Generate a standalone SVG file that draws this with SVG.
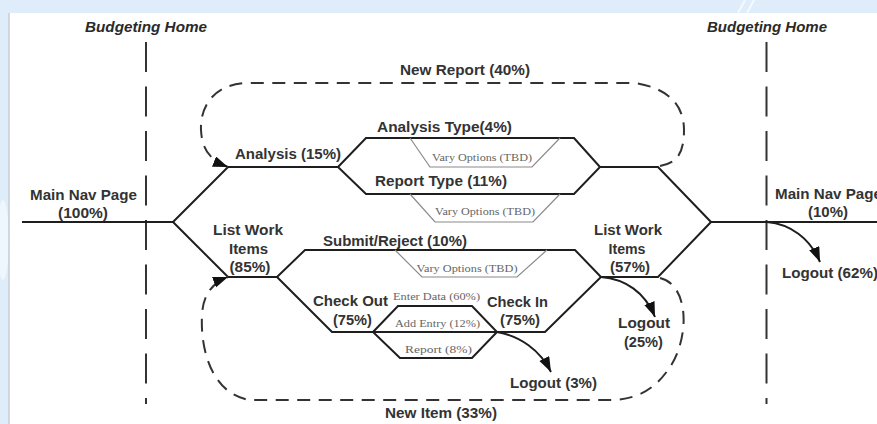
<svg xmlns="http://www.w3.org/2000/svg" width="877" height="424" viewBox="0 0 877 424">
  <style>
    .lbl { font-family: "Liberation Sans", Arial, sans-serif; font-weight: bold; font-size: 14px; fill: #333; text-anchor: middle; }
    .hdr { font-family: "Liberation Sans", Arial, sans-serif; font-weight: bold; font-style: italic; font-size: 14px; fill: #2a2a2a; text-anchor: middle; }
    .opt { font-family: "Liberation Serif", "Times New Roman", serif; font-size: 10px; fill: #666; text-anchor: middle; }
    .path { fill: none; stroke: #1e1e1e; stroke-width: 2; stroke-linejoin: miter; }
    .sub { fill: none; stroke: #8a8a8a; stroke-width: 1.2; }
    .loop { fill: none; stroke: #333; stroke-width: 2; stroke-dasharray: 13 8.5; }
    .home { fill: none; stroke: #333; stroke-width: 2; stroke-dasharray: 30 14.5; }
    .exit { fill: none; stroke: #1e1e1e; stroke-width: 2; }
  </style>
  <defs>
    <marker id="head" markerUnits="userSpaceOnUse" markerWidth="16" markerHeight="12" refX="15" refY="5.5" orient="auto">
      <path d="M0,0 L15,5.5 L0,11 z" fill="#111"/>
    </marker>
  </defs>

  <!-- page background and white sheet -->
  <rect x="0" y="0" width="877" height="424" fill="#dfedfb"/>
  <line x1="745" y1="0" x2="738" y2="13" stroke="#f4f9ff" stroke-width="2"/>
  <line x1="754" y1="0" x2="747" y2="13" stroke="#f4f9ff" stroke-width="2"/>
  <ellipse cx="3" cy="240" rx="6" ry="40" fill="#eef6fe"/>
  <rect x="9" y="13" width="868" height="411" fill="#ffffff"/>
  <line x1="9" y1="13" x2="9" y2="424" stroke="#c9cdd2" stroke-width="1.5"/>

  <!-- Budgeting Home boundaries -->
  <g id="home-left">
    <text class="hdr" x="146" y="32" textLength="122" lengthAdjust="spacingAndGlyphs">Budgeting Home</text>
    <line class="home" x1="146" y1="42" x2="146" y2="404"/>
  </g>
  <g id="home-right">
    <text class="hdr" x="767" y="32" textLength="120" lengthAdjust="spacingAndGlyphs">Budgeting Home</text>
    <line class="home" x1="766.5" y1="42" x2="766.5" y2="404"/>
  </g>

  <!-- connectors -->
  <g id="connectors">
    <!-- main flow -->
    <path class="path" d="M22 222 L173 222"/>
    <path class="path" d="M173 222 L228 167 L338 167"/>
    <path class="path" d="M173 222 L228 277 L277 277"/>
    <path class="path" d="M338 167 L366 138 L574 138 L600 167 L574 194 L366 194 Z"/>
    <path class="path" d="M600 167 L658 167 L711 222"/>
    <path class="path" d="M711 222 L877 222"/>
    <path class="path" d="M277 277 L305 250 L575 250 L601 277 L545 332 L497 332"/>
    <path class="path" d="M277 277 L332 332 L373 332 L497 332"/>
    <path class="path" d="M373 332 L398 306 L472 306 L497 332 L472 358 L400 358 Z"/>
    <path class="path" d="M601 277 L658 277 L711 222"/>

    <!-- option sub-paths -->
    <path class="sub" d="M410 138 L430 167 L532 167 L560 138"/>
    <path class="sub" d="M410 194 L435 222 L533 222 L560 194"/>
    <path class="sub" d="M395 250 L422 277 L517 277 L547 250"/>

    <!-- loops -->
    <path class="loop" marker-end="url(#head)" d="M660 166 C678 163 684 152 684 130 C684 105 668 88 635 83 L245 83 C215 85 200 105 201 130 C202 150 210 160 228 167"/>
    <path class="loop" marker-end="url(#head)" d="M660 278 C690 285 690 340 668 370 C655 388 640 398 615 400 L250 400 C215 395 200 355 202 315 C203 295 212 283 228 277"/>

    <!-- exits -->
    <path class="exit" marker-end="url(#head)" d="M767 222 C790 224 810 238 820 262"/>
    <path class="exit" marker-end="url(#head)" d="M601 277 C625 279 645 292 655 317"/>
    <path class="exit" marker-end="url(#head)" d="M497 332 C520 336 540 350 551 372"/>
  </g>

  <!-- nodes -->
  <g id="main-nav-start">
    <text class="lbl" x="83.5" y="200" textLength="107" lengthAdjust="spacingAndGlyphs">Main Nav Page</text>
    <text class="lbl" x="83" y="218" textLength="50" lengthAdjust="spacingAndGlyphs">(100%)</text>
  </g>
  <g id="main-nav-end">
    <text class="lbl" x="828.5" y="199" textLength="107" lengthAdjust="spacingAndGlyphs">Main Nav Page</text>
    <text class="lbl" x="828" y="217" textLength="40" lengthAdjust="spacingAndGlyphs">(10%)</text>
  </g>
  <g id="new-report">
    <text class="lbl" x="465" y="75" textLength="130" lengthAdjust="spacingAndGlyphs">New Report (40%)</text>
  </g>
  <g id="analysis">
    <text class="lbl" x="288" y="159" textLength="106" lengthAdjust="spacingAndGlyphs">Analysis (15%)</text>
  </g>
  <g id="analysis-type">
    <text class="lbl" x="444.5" y="132" textLength="135" lengthAdjust="spacingAndGlyphs">Analysis Type(4%)</text>
    <text class="opt" x="482" y="161" textLength="100" lengthAdjust="spacingAndGlyphs">Vary Options (TBD)</text>
  </g>
  <g id="report-type">
    <text class="lbl" x="441" y="186" textLength="132" lengthAdjust="spacingAndGlyphs">Report Type (11%)</text>
    <text class="opt" x="485" y="215" textLength="100" lengthAdjust="spacingAndGlyphs">Vary Options (TBD)</text>
  </g>
  <g id="list-work-items-in">
    <text class="lbl" x="248" y="235" textLength="70" lengthAdjust="spacingAndGlyphs">List Work</text>
    <text class="lbl" x="248.5" y="254" textLength="39" lengthAdjust="spacingAndGlyphs">Items</text>
    <text class="lbl" x="250" y="272" textLength="41" lengthAdjust="spacingAndGlyphs">(85%)</text>
  </g>
  <g id="list-work-items-out">
    <text class="lbl" x="628" y="235" textLength="68" lengthAdjust="spacingAndGlyphs">List Work</text>
    <text class="lbl" x="627" y="254" textLength="37" lengthAdjust="spacingAndGlyphs">Items</text>
    <text class="lbl" x="630" y="272" textLength="40" lengthAdjust="spacingAndGlyphs">(57%)</text>
  </g>
  <g id="submit-reject">
    <text class="lbl" x="395" y="246" textLength="144" lengthAdjust="spacingAndGlyphs">Submit/Reject (10%)</text>
    <text class="opt" x="467" y="272" textLength="101" lengthAdjust="spacingAndGlyphs">Vary Options (TBD)</text>
  </g>
  <g id="check-out">
    <text class="lbl" x="350.5" y="306" textLength="75" lengthAdjust="spacingAndGlyphs">Check Out</text>
    <text class="lbl" x="352.5" y="325" textLength="39" lengthAdjust="spacingAndGlyphs">(75%)</text>
  </g>
  <g id="enter-data">
    <text class="opt" x="436.5" y="300" textLength="87" lengthAdjust="spacingAndGlyphs">Enter Data (60%)</text>
    <text class="opt" x="437.5" y="327" textLength="85" lengthAdjust="spacingAndGlyphs">Add Entry (12%)</text>
    <text class="opt" x="438.5" y="353" textLength="67" lengthAdjust="spacingAndGlyphs">Report  (8%)</text>
  </g>
  <g id="check-in">
    <text class="lbl" x="517.5" y="307" textLength="61" lengthAdjust="spacingAndGlyphs">Check In</text>
    <text class="lbl" x="520" y="325" textLength="40" lengthAdjust="spacingAndGlyphs">(75%)</text>
  </g>
  <g id="logout-25">
    <text class="lbl" x="644" y="328" textLength="52" lengthAdjust="spacingAndGlyphs">Logout</text>
    <text class="lbl" x="643.5" y="347" textLength="39" lengthAdjust="spacingAndGlyphs">(25%)</text>
  </g>
  <g id="logout-3">
    <text class="lbl" x="553.5" y="388" textLength="87" lengthAdjust="spacingAndGlyphs">Logout (3%)</text>
  </g>
  <g id="logout-62">
    <text class="lbl" x="830" y="278" textLength="96" lengthAdjust="spacingAndGlyphs">Logout (62%)</text>
  </g>
  <g id="new-item">
    <text class="lbl" x="441" y="418" textLength="112" lengthAdjust="spacingAndGlyphs">New Item (33%)</text>
  </g>
</svg>
